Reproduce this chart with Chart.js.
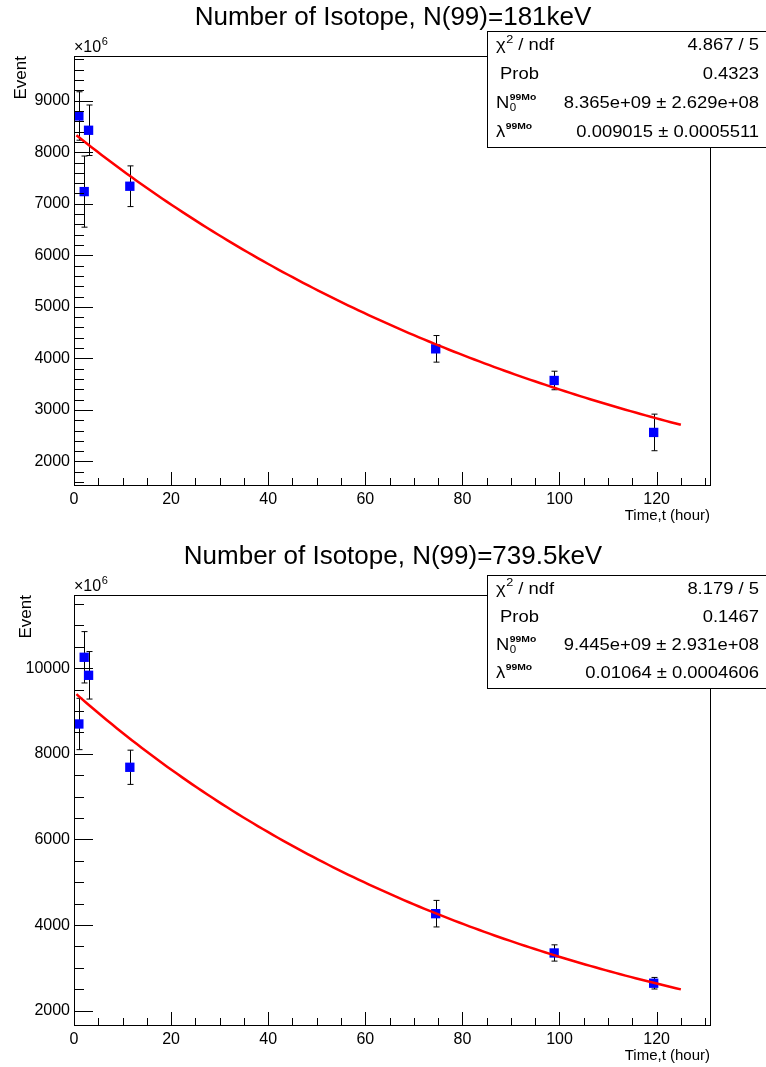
<!DOCTYPE html>
<html>
<head>
<meta charset="utf-8">
<title>Number of Isotope</title>
<script src="https://cdn.jsdelivr.net/npm/chart.js@4.4.1/dist/chart.umd.min.js"></script>
<style>
  html, body { margin: 0; padding: 0; background: #fff; }
  body { width: 766px; height: 1067px; position: relative; overflow: hidden; }
  .pad { position: absolute; left: 0; width: 766px; }
  #padTop { top: 0; height: 533px; }
  #padBot { top: 533px; height: 534px; }
</style>
</head>
<body>
<div class="pad" id="padTop"><canvas id="chart181" width="766" height="533"></canvas></div>
<div class="pad" id="padBot"><canvas id="chart739" width="766" height="534"></canvas></div>
<script>
const FONT = '"Liberation Sans", Arial, Helvetica, sans-serif';

// hours after end of irradiation
const hours = [1.0, 2.1, 3.0, 11.5, 74.5, 98.9, 119.4];

// 181 keV line (events, x10^6)
const events181 = [8703, 7236, 8426, 7340, 4185, 3571, 2563];
const errors181 = [470, 690, 490, 395, 258, 180, 355];

// 739.5 keV line (events, x10^6)
const events739 = [8699, 10257, 9836, 7687, 4267, 3349, 2642];
const errors739 = [600, 600, 555, 400, 310, 190, 135];

// fit N(t) = N0 * exp(-lambda * t), N0 in units of 10^6
const fitN0 = [8365, 9445];
const fitLambda = [0.009015, 0.01064];
const fitRange = [0.5, 125];

// stat box values
const stats181 = ['4.867 / 5', '0.4323', '8.365e+09 \u00b1 2.629e+08', '0.009015 \u00b1 0.0005511'];
const stats739 = ['8.179 / 5', '0.1467', '9.445e+09 \u00b1 2.931e+08', '0.01064 \u00b1 0.0004606'];

// axis ticks
const timeTicks = [0, 20, 40, 60, 80, 100, 120];
const eventTicks181 = [2000, 3000, 4000, 5000, 6000, 7000, 8000, 9000];
const eventTicks739 = [2000, 4000, 6000, 8000, 10000];

const STRETCH = 1.15; // stat box font is drawn a bit wide

function fitCurve(n0, lambda) {
  const pts = [];
  const n = 120;
  for (let i = 0; i <= n; i++) {
    const t = fitRange[0] + (fitRange[1] - fitRange[0]) * i / n;
    pts.push({ x: t, y: n0 * Math.exp(-lambda * t) });
  }
  return pts;
}

// text drawn with horizontal stretch, returns right end x
function wideText(ctx, txt, x, y, font, sx = STRETCH) {
  ctx.font = font;
  ctx.save();
  ctx.translate(x, y);
  ctx.scale(sx, 1);
  ctx.fillText(txt, 0, 0);
  ctx.restore();
  return x + ctx.measureText(txt).width * sx;
}

// base glyph followed by sub/superscript
function supText(ctx, base, sup, x, y, opts = {}) {
  const sx = opts.sx || STRETCH;
  const xb = wideText(ctx, base, x, y, `16px ${FONT}`, sx) + 0.5;
  if (opts.sub) wideText(ctx, opts.sub, xb, y + 5, `10px ${FONT}`, sx);
  return wideText(ctx, sup, xb, y - 6, opts.supFont || `11px ${FONT}`, sx);
}

function drawStats(ctx, box, values) {
  const { x, y, w, h } = box;
  ctx.save();
  ctx.fillStyle = '#fff';
  ctx.fillRect(x, y, w, h);
  ctx.strokeStyle = '#000';
  ctx.lineWidth = 1;
  ctx.strokeRect(x + 0.5, y + 0.5, w, h);
  ctx.fillStyle = '#000';
  ctx.textBaseline = 'middle';
  const rowH = h / 4;
  const lx = x + 9;
  values.forEach((val, i) => {
    const cy = y + rowH * (i + 0.5);
    ctx.textAlign = 'right';
    wideText(ctx, val, 759, cy, `16px ${FONT}`);
    ctx.textAlign = 'left';
    if (i === 0) {
      const xe = supText(ctx, '\u03c7', '2', lx, cy);
      wideText(ctx, ' / ndf', xe, cy, `16px ${FONT}`);
    } else if (i === 1) {
      wideText(ctx, 'Prob', lx + 4, cy, `16px ${FONT}`);
    } else if (i === 2) {
      supText(ctx, 'N', '99Mo', lx, cy, { sub: '0', supFont: `bold 9px ${FONT}` });
    } else {
      supText(ctx, '\u03bb', '99Mo', lx, cy, { supFont: `bold 9px ${FONT}` });
    }
  });
  ctx.restore();
}

function makePad(canvasId, cfg) {
  const H = cfg.height;
  const frame = {
    id: 'rootFrame',
    beforeDatasetsDraw(chart) {
      // vertical error bars with small end caps
      const { ctx, scales: { x, y } } = chart;
      ctx.save();
      ctx.strokeStyle = '#000';
      ctx.lineWidth = 1;
      ctx.beginPath();
      hours.forEach((t, i) => {
        const px = Math.round(x.getPixelForValue(t)) + 0.5;
        const yt = y.getPixelForValue(cfg.events[i] + cfg.errors[i]);
        const yb = y.getPixelForValue(cfg.events[i] - cfg.errors[i]);
        ctx.moveTo(px, yt); ctx.lineTo(px, yb);
        ctx.moveTo(px - 3, yt); ctx.lineTo(px + 3, yt);
        ctx.moveTo(px - 3, yb); ctx.lineTo(px + 3, yb);
      });
      ctx.stroke();
      ctx.restore();
    },
    afterDraw(chart) {
      const { ctx, chartArea: a, scales: { x, y } } = chart;
      ctx.save();
      ctx.strokeStyle = '#000';
      ctx.lineWidth = 1;
      ctx.strokeRect(Math.round(a.left) + 0.5, Math.round(a.top) + 0.5,
        Math.round(a.right - a.left), Math.round(a.bottom - a.top));

      // inward ticks, left and bottom only
      ctx.beginPath();
      for (let v = Math.ceil(y.min / cfg.yMinor) * cfg.yMinor; v <= y.max; v += cfg.yMinor) {
        const py = Math.round(y.getPixelForValue(v)) + 0.5;
        const len = cfg.yTicks.includes(v) ? 19 : 10;
        ctx.moveTo(a.left, py); ctx.lineTo(a.left + len, py);
      }
      for (let v = 0; v <= x.max; v += 5) {
        const px = Math.round(x.getPixelForValue(v)) + 0.5;
        const len = timeTicks.includes(v) ? 13 : 7;
        ctx.moveTo(px, a.bottom); ctx.lineTo(px, a.bottom - len);
      }
      ctx.stroke();

      // pad title
      ctx.fillStyle = '#000';
      ctx.textAlign = 'center';
      ctx.textBaseline = 'middle';
      ctx.font = `26px ${FONT}`;
      ctx.fillText(cfg.title, 393, cfg.titleY);

      // axis multiplier
      ctx.textAlign = 'left';
      supText(ctx, '\u00d710', '6', a.left, a.top - 8, { sx: 1 });

      drawStats(ctx, cfg.box, cfg.stats);
      ctx.restore();
    }
  };

  return new Chart(document.getElementById(canvasId), {
    data: {
      datasets: [
        {
          type: 'scatter',
          label: 'data',
          data: hours.map((t, i) => ({ x: t, y: cfg.events[i] })),
          pointStyle: 'rect',
          pointRadius: 6.6,
          pointHoverRadius: 6.6,
          backgroundColor: '#0000ff',
          borderColor: '#0000ff',
          borderWidth: 0,
          order: 2
        },
        {
          type: 'line',
          label: 'fit',
          data: fitCurve(cfg.n0, cfg.lambda),
          borderColor: '#ff0000',
          borderWidth: 2.5,
          pointRadius: 0,
          tension: 0,
          fill: false,
          order: 1
        }
      ]
    },
    options: {
      responsive: false,
      animation: false,
      devicePixelRatio: 1,
      layout: { padding: { top: cfg.frameTop, right: 56, bottom: 0, left: 0 } },
      plugins: { legend: { display: false }, tooltip: { enabled: false }, title: { display: false } },
      scales: {
        x: {
          type: 'linear',
          min: 0,
          max: 131,
          afterBuildTicks: s => { s.ticks = timeTicks.map(v => ({ value: v })); },
          afterFit: s => { s.height = H - cfg.frameBottom; },
          grid: { display: false, drawTicks: false },
          border: { display: false },
          ticks: { color: '#000', font: { family: FONT, size: 16 }, padding: 5, maxRotation: 0, autoSkip: false, callback: v => String(v) },
          title: {
            display: true, text: 'Time,t (hour)', align: 'end', color: '#000',
            font: { family: FONT, size: 15 }, padding: { top: 0, bottom: cfg.xTitlePad }
          }
        },
        y: {
          type: 'linear',
          min: cfg.yMin,
          max: cfg.yMax,
          afterBuildTicks: s => { s.ticks = cfg.yTicks.map(v => ({ value: v })); },
          afterFit: s => { s.width = 74; },
          grid: { display: false, drawTicks: false },
          border: { display: false },
          ticks: { color: '#000', font: { family: FONT, size: 16 }, padding: 4, callback: v => String(v) },
          title: {
            display: true, text: 'Event', align: 'end', color: '#000',
            font: { family: FONT, size: 17 }, padding: { top: cfg.yTitlePad, bottom: 0 }
          }
        }
      }
    },
    plugins: [frame]
  });
}

makePad('chart181', {
  height: 533, frameTop: 56, frameBottom: 485,
  yMin: 1543, yMax: 9867, yTicks: eventTicks181, yMinor: 200,
  events: events181, errors: errors181,
  n0: fitN0[0], lambda: fitLambda[0],
  title: 'Number of Isotope, N(99)=181keV', titleY: 18,
  stats: stats181, box: { x: 487, y: 31, w: 280, h: 116 },
  xTitlePad: 8, yTitlePad: 11
});

makePad('chart739', {
  height: 534, frameTop: 62, frameBottom: 492,
  yMin: 1666, yMax: 11712, yTicks: eventTicks739, yMinor: 500,
  events: events739, errors: errors739,
  n0: fitN0[1], lambda: fitLambda[1],
  title: 'Number of Isotope, N(99)=739.5keV', titleY: 24,
  stats: stats739, box: { x: 487, y: 42, w: 280, h: 113 },
  xTitlePad: 2, yTitlePad: 16
});
</script>
</body>
</html>
